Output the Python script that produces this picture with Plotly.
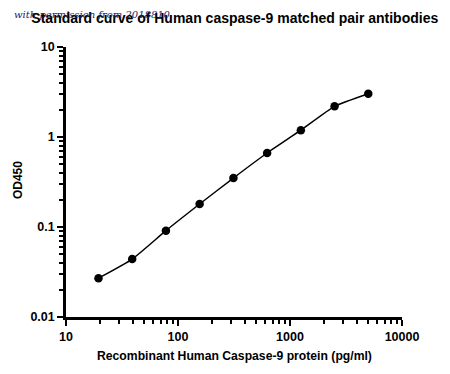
import plotly.graph_objects as go

concentration = [19.5, 39, 78, 156, 312.5, 625, 1250, 2500, 5000]
od450 = [0.027, 0.044, 0.091, 0.180, 0.35, 0.664, 1.19, 2.19, 3.03]

x_ticks = [10, 100, 1000, 10000]
x_tick_labels = ["10", "100", "1000", "10000"]
y_ticks = [0.01, 0.1, 1, 10]
y_tick_labels = ["0.01", "0.1", "1", "10"]

x_minor = [m * d for d in [10, 100, 1000] for m in range(2, 10)]
y_minor = [m * d for d in [0.01, 0.1, 1] for m in range(2, 10)]

font_family = "Liberation Sans, Arial, sans-serif"
fig = go.Figure()
fig.add_trace(go.Scatter(
    x=concentration, y=od450, mode="lines+markers",
    line=dict(color="black", width=1.5, shape="spline", smoothing=0.5),
    marker=dict(color="black", size=8.5),
    showlegend=False,
))

tickfont = dict(family=font_family, size=12.5, color="black")
fig.update_layout(
    width=450, height=374,
    margin=dict(l=58, r=56, t=39, b=65, autoexpand=False),
    plot_bgcolor="white", paper_bgcolor="white",
    title=dict(text="<b>Standard curve of Human caspase-9 matched pair antibodies</b>",
               x=0.504, xanchor="center", y=0.973, yanchor="middle", automargin=False,
               font=dict(family=font_family, size=14, color="black")),
    xaxis=dict(type="log", range=[1, 4], tickvals=x_ticks, ticktext=["<b>%s</b>" % t for t in x_tick_labels],
               showgrid=False, zeroline=False, showline=True, linecolor="black", linewidth=2.5,
               ticks="outside", ticklen=6, tickwidth=2, tickcolor="black", tickfont=tickfont,
               automargin=False,
               minor=dict(ticks="outside", ticklen=4, tickwidth=2, tickcolor="black",
                          tickvals=x_minor, showgrid=False)),
    yaxis=dict(type="log", range=[-2, 1], tickvals=y_ticks, ticktext=["<b>%s</b>" % t for t in y_tick_labels],
               showgrid=False, zeroline=False, showline=True, linecolor="black", linewidth=2.5,
               ticks="outside", ticklen=6, tickwidth=2, tickcolor="black", tickfont=tickfont,
               automargin=False,
               minor=dict(ticks="outside", ticklen=4, tickwidth=2, tickcolor="black",
                          tickvals=y_minor, showgrid=False)),
)
fig.add_annotation(text="<b>Recombinant Human Caspase-9 protein (pg/ml)</b>", xref="paper", yref="paper",
                   x=0.5, y=-0.144, xanchor="center", yanchor="middle", showarrow=False,
                   font=dict(family=font_family, size=12.2, color="black"))
fig.add_annotation(text="<b>OD450</b>", xref="paper", yref="paper", textangle=-90,
                   x=-0.143, y=0.507, xanchor="center", yanchor="middle", showarrow=False,
                   font=dict(family=font_family, size=12, color="black"))
fig.add_annotation(text="<i>with permission from 2018810</i>", xref="paper", yref="paper",
                   x=-0.161, y=1.119, xanchor="left", yanchor="middle", showarrow=False,
                   font=dict(family="DejaVu Serif, serif", size=10, color="#1a1a6e"))

fig.write_html("out.html")
